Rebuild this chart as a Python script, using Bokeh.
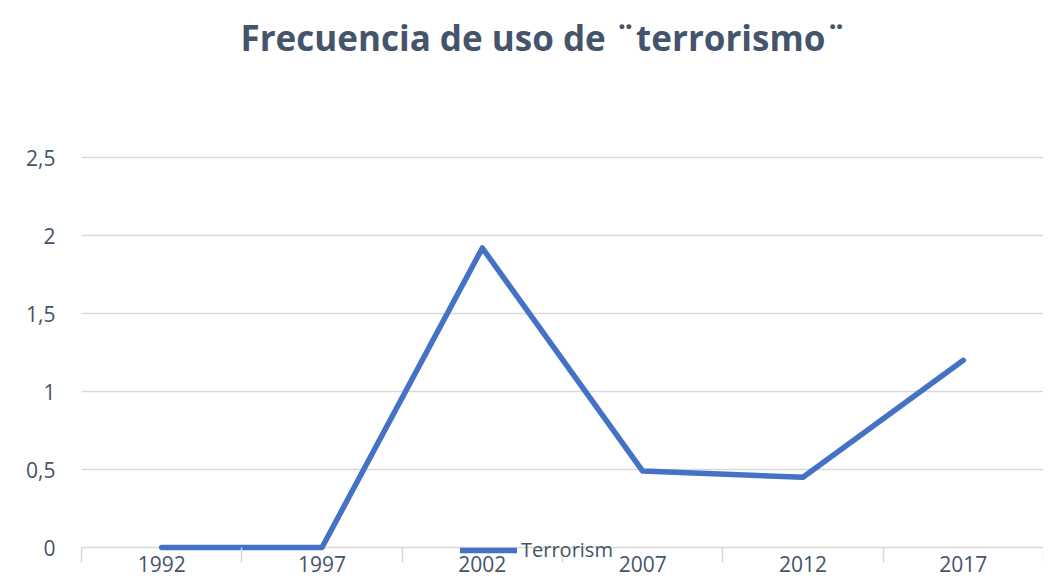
from bokeh.plotting import figure
from bokeh.models import Range1d, FixedTicker, Legend, LegendItem, Title
from bokeh.embed import file_html
from bokeh.resources import INLINE

years = ["1992", "1997", "2002", "2007", "2012", "2017"]
terrorism = [0.0, 0.0, 1.92, 0.49, 0.45, 1.2]
y_ticks = [0, 0.5, 1, 1.5, 2, 2.5]
y_tick_labels = ["0", "0,5", "1", "1,5", "2", "2,5"]
series_name = "Terrorism"
title_text = "Frecuencia de uso de ¨terrorismo¨"

xs = list(range(len(years)))

FONT = "Open Sans"
TXT = "#44546A"
GRID = "#D9D9D9"

# frame: 390 px for 0..2.5, 15 px below zero for the legend strip, 2 px headroom
px_per_unit = 390 / 2.5
below_px = 15
above_px = 2
y_start = -below_px / px_per_unit
y_end = 2.5 + above_px / px_per_unit

p = figure(width=1043, height=584, frame_width=962,
           frame_height=390 + below_px + above_px,
           output_backend="svg", toolbar_location=None,
           x_range=Range1d(-0.5, len(years) - 0.5), y_range=Range1d(y_start, y_end),
           min_border_left=81, min_border_right=0, min_border_top=157 - above_px,
           min_border_bottom=22)

p.outline_line_color = None
p.background_fill_color = "white"
p.border_fill_color = "white"

# spacer between frame and title (keeps the title near the top of the chart)
spacer = Title(text=" ", text_font_size="1px", text_color="white", standoff=90)
p.add_layout(spacer, "above")
t = Title(text=title_text, align="left", vertical_align="top", text_font=FONT,
          text_font_size="35px", text_font_style="bold", text_color=TXT,
          standoff=0, offset=159)
p.add_layout(t, "above")

r = p.line(xs, terrorism, line_color="#4472C4", line_width=5.5,
           line_cap="round", line_join="round")

# x axis: zero gridline acts as the axis line, boundary ticks hang from it
p.xaxis.ticker = FixedTicker(ticks=xs, minor_ticks=[i - 0.5 for i in range(len(years) + 1)])
p.xaxis.major_label_overrides = {i: y for i, y in enumerate(years)}
p.xaxis.axis_line_color = None
p.xaxis.major_tick_line_color = None
p.xaxis.minor_tick_line_color = GRID
p.xaxis.minor_tick_line_width = 1.5
p.xaxis.minor_tick_out = 0
p.xaxis.minor_tick_in = below_px
p.xaxis.major_tick_out = 0
p.xaxis.major_tick_in = 0
p.xaxis.major_label_standoff = -7
p.xaxis.major_label_text_font = FONT
p.xaxis.major_label_text_font_size = "21px"
p.xaxis.major_label_text_color = TXT

# y axis
p.yaxis.ticker = FixedTicker(ticks=y_ticks)
p.yaxis.major_label_overrides = {v: s for v, s in zip(y_ticks, y_tick_labels)}
p.yaxis.axis_line_color = None
p.yaxis.major_tick_line_color = None
p.yaxis.minor_tick_line_color = None
p.yaxis.major_label_standoff = 20
p.yaxis.major_label_text_font = FONT
p.yaxis.major_label_text_font_size = "21px"
p.yaxis.major_label_text_color = TXT

p.xgrid.grid_line_color = None
p.ygrid.grid_line_color = GRID
p.ygrid.grid_line_width = 1.5

legend = Legend(items=[LegendItem(label=series_name, renderers=[r])],
                location=(379, -1), orientation="horizontal",
                glyph_width=57, glyph_height=20, label_height=20, label_standoff=4,
                padding=0, margin=0, spacing=0, border_line_color=None,
                background_fill_alpha=0,
                label_text_font=FONT, label_text_font_size="20px",
                label_text_color=TXT)
p.add_layout(legend, "center")

open("out.html", "w").write(file_html(p, INLINE))
